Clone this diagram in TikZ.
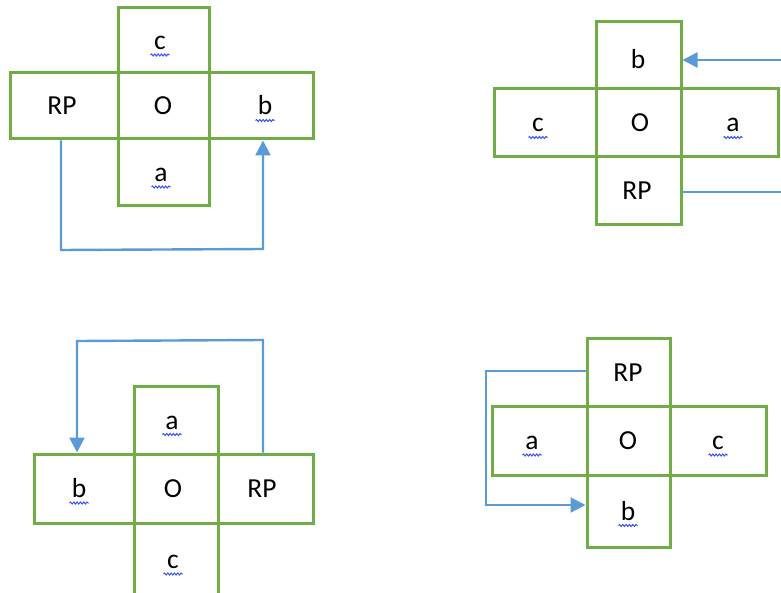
\documentclass[tikz,border=0pt]{standalone}
\usepackage{fontspec}
\setmainfont{Carlito}
\usetikzlibrary{arrows.meta,decorations.pathmorphing}

\definecolor{cellgreen}{RGB}{112,173,71}
\definecolor{linkblue}{RGB}{91,155,213}
\definecolor{squigblue}{RGB}{60,80,240}

\tikzset{
  cell/.style={draw=cellgreen, line width=3bp, inner sep=0pt},
  tag/.style={inner sep=0pt, text height=18bp, text depth=0pt,
              font=\fontsize{27.5bp}{33bp}\selectfont},
  link/.style={draw=linkblue, line width=2.4bp},
  linkarrow/.style={link, -{Triangle[length=15bp,width=15bp]}},
  squiggle/.style={draw=squigblue, line width=1bp, decorate,
                   decoration={snake, segment length=3.3bp, amplitude=1bp}},
}

% one square of a cross: [text options], name, corners x1 y1 x2 y2, text, text x
\newcommand\gridcell[8][]{%
  \node[cell, minimum width={(#5-#3)*1bp}, minimum height={(#6-#4)*1bp}]
    (#2) at ({(#3+#5)/2},{(#4+#6)/2}) {};
  \node[tag,#1] (#2t) at (#8,{(#4+#6)/2}) {#7};}

% wavy underline below a label
\newcommand\spellmark[1]{%
  \draw[squiggle] ([xshift=-9.5bp,yshift=-5.5bp]#1.base) -- ([xshift=9.5bp,yshift=-5.5bp]#1.base);}

\begin{document}
\begin{tikzpicture}[x=1bp,y=-1bp]
\useasboundingbox (0,0) rectangle (781,593);
\fill[white] (0,0) rectangle (781,593);
\clip (0,0) rectangle (781,593);

% cross 1
\gridcell{c1}{118}{8}{209}{73}{c}{160}
\gridcell{rp1}{10}{73}{118}{139}{RP}{62}
\gridcell{o1}{118}{73}{209}{139}{O}{163}
\gridcell{b1}{209}{73}{313}{139}{b}{265}
\gridcell{a1}{118}{139}{209}{206}{a}{161}
\spellmark{c1t}\spellmark{b1t}\spellmark{a1t}
\coordinate (k1) at (61,250);
\coordinate (t1) at (263,249);
\draw[linkarrow] (k1 |- rp1.south) -- (k1) -- (t1) -- (t1 |- b1.south);

% cross 2
\gridcell[yshift=-4bp]{b2}{596}{22}{681}{89}{b}{638}
\gridcell{c2}{494}{89}{596}{157}{c}{538}
\gridcell{o2}{596}{89}{681}{157}{O}{640}
\gridcell{a2}{681}{89}{778}{157}{a}{733}
\gridcell{rp2}{596}{157}{681}{224}{RP}{637}
\spellmark{c2t}\spellmark{a2t}
\coordinate (e2) at (781,60);
\coordinate (f2) at (781,192);
\draw[linkarrow] (e2) -- (e2 -| b2.east);
\draw[link] (f2 -| rp2.east) -- (f2);

% cross 3
\gridcell{a3}{134}{386}{218}{454}{a}{172}
\gridcell{b3}{34}{454}{134}{523}{b}{79}
\gridcell{o3}{134}{454}{218}{523}{O}{173}
\gridcell{rp3}{218}{454}{313}{523}{RP}{262}
\gridcell{c3}{134}{523}{218}{596}{c}{173}
\spellmark{a3t}\spellmark{b3t}\spellmark{c3t}
\coordinate (k3) at (263,340);
\coordinate (t3) at (77,341);
\draw[linkarrow] (k3 |- rp3.north) -- (k3) -- (t3) -- (t3 |- b3.north);

% cross 4
\gridcell{rp4}{587}{338}{670}{406}{RP}{628}
\gridcell{a4}{492}{406}{587}{475}{a}{532}
\gridcell{o4}{587}{406}{670}{475}{O}{628}
\gridcell{c4}{670}{406}{766}{475}{c}{718}
\gridcell{b4}{587}{475}{670}{547}{b}{628}
\spellmark{a4t}\spellmark{c4t}\spellmark{b4t}
\coordinate (k4) at (486,371);
\coordinate (t4) at (486,505);
\draw[linkarrow] (k4 -| rp4.west) -- (k4) -- (t4) -- (t4 -| b4.west);
\end{tikzpicture}
\end{document}
